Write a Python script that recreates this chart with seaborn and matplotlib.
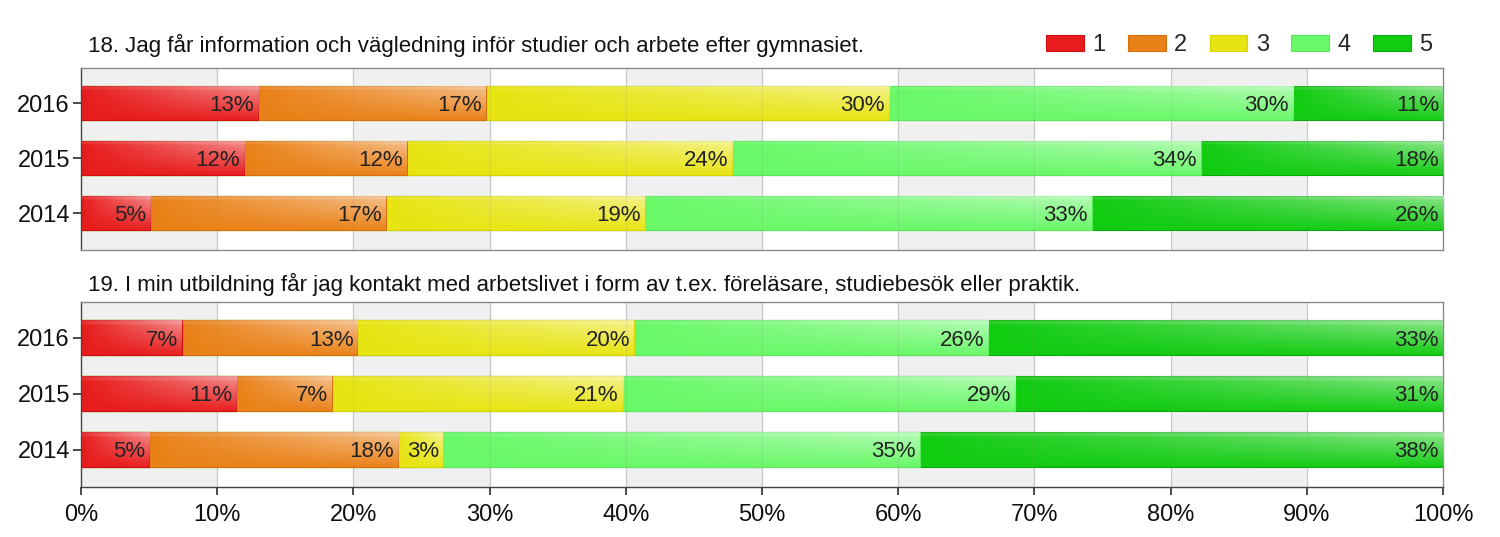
import seaborn as sns
import numpy as np
import matplotlib.pyplot as plt
import pandas as pd
from matplotlib.patches import Rectangle

# data (share of answers per grade, %)
years = ["2016", "2015", "2014"]
grades = ["1", "2", "3", "4", "5"]
q18_title = "18. Jag får information och vägledning inför studier och arbete efter gymnasiet."
q19_title = "19. I min utbildning får jag kontakt med arbetslivet i form av t.ex. föreläsare, studiebesök eller praktik."

q18 = {
    "2016": [13.0, 16.7, 29.6, 29.7, 11.0],
    "2015": [12.0, 11.9, 23.9, 34.4, 17.8],
    "2014": [5.1, 17.3, 19.0, 32.8, 25.8],
}
q19 = {
    "2016": [7.4, 12.9, 20.3, 26.0, 33.4],
    "2015": [11.4, 7.0, 21.4, 28.8, 31.4],
    "2014": [5.0, 18.3, 3.3, 35.0, 38.4],
}

colors = ["#e81c1c", "#ea8118", "#e8e412", "#68f868", "#12cc12"]
edges = ["#d01010", "#d87010", "#d8d400", "#58e858", "#0aa80a"]

sns.set_theme(style="white")
plt.rcParams["font.family"] = ["Liberation Sans", "DejaVu Sans"]

fig = plt.figure(figsize=(15, 5.37), dpi=100)
ax1 = fig.add_axes([81 / 1500, 1 - 250 / 537, 1362 / 1500, 182 / 537])
ax2 = fig.add_axes([81 / 1500, 1 - 487 / 537, 1362 / 1500, 185 / 537])

# gradient used as a glossy overlay on every bar
gx = np.linspace(0, 1, 64)[None, :]
gy = np.linspace(0, 1, 32)[:, None]
alpha = 0.45 * gx * np.clip(1.15 - gy * 1.1, 0, 1) + 0.1 * (gy < 0.12)
gloss = np.zeros((32, 64, 4))
gloss[..., :3] = 1.0
gloss[..., 3] = np.clip(alpha, 0, 0.55)
bar_h = 0.62


def draw_panel(ax, data, title, title_y):
    df = pd.DataFrame(data, index=grades).T.loc[years]
    cum = df.cumsum(axis=1)
    # background bands and grid
    for i in range(10):
        if i % 2 == 0:
            ax.axvspan(i * 10, i * 10 + 10, color="#f0f0f0", zorder=0, lw=0)
    for i in range(1, 10):
        ax.axvline(i * 10, color="#d4d4d4", lw=0.9, zorder=0.5)
        ax.axvline(i * 10, color="#888888", lw=0.9, alpha=0.12, zorder=3.5)
    # stacked bars: draw cumulative sums from the last grade backwards
    for k in range(len(grades) - 1, -1, -1):
        plot_df = pd.DataFrame({"year": years, "val": cum[grades[k]].values})
        sns.barplot(data=plot_df, x="val", y="year", order=years, orient="h",
                    color=colors[k], edgecolor=edges[k], linewidth=0.8,
                    width=bar_h, saturation=1, ax=ax, zorder=2)
    for j, yr in enumerate(years):
        vals = df.loc[yr].values
        ends = cum.loc[yr].values
        for k in range(len(grades)):
            start = ends[k] - vals[k]
            ax.imshow(gloss, extent=(start, ends[k], j + bar_h / 2, j - bar_h / 2),
                      aspect="auto", zorder=3, interpolation="bilinear")
            ax.text(ends[k] - 0.3, j + 0.04, f"{vals[k]:.0f}%", ha="right", va="center",
                    fontsize=16, color="#222222", zorder=4)
    ax.set_xlim(0, 100)
    ax.set_ylim(2.67, -0.64)
    ax.set_xlabel("")
    ax.set_ylabel("")
    ax.tick_params(axis="y", labelsize=17, length=6, color="#333333", labelcolor="#111111",
                   left=True, pad=2)
    ax.tick_params(axis="x", labelsize=17, length=6, color="#333333", labelcolor="#111111",
                   bottom=True, pad=6)
    ax.set_xticks(np.arange(0, 101, 10))
    ax.set_xticklabels([f"{t}%" for t in range(0, 101, 10)])
    for s in ["top", "right"]:
        ax.spines[s].set_color("#8a8a8a")
        ax.spines[s].set_linewidth(1)
    for s in ["left", "bottom"]:
        ax.spines[s].set_color("#444444")
        ax.spines[s].set_linewidth(1)
    fig.text(88 / 1500, 1 - title_y / 537, title, fontsize=16,
             color="#111111", ha="left", va="center")


draw_panel(ax1, q18, q18_title, 45)
draw_panel(ax2, q19, q19_title, 284)
ax1.tick_params(axis="x", labelbottom=False, bottom=False)
ax1.spines["bottom"].set_color("#8a8a8a")

handles = [Rectangle((0, 0), 1, 1, facecolor=c, edgecolor=e, lw=0.8) for c, e in zip(colors, edges)]
fig.legend(handles, grades, loc="center right", bbox_to_anchor=(1432 / 1500, 1 - 45 / 537),
           ncol=5, frameon=False, fontsize=17, handlelength=1.6, handleheight=0.68,
           handletextpad=0.35, columnspacing=0.95, borderpad=0, borderaxespad=0)

fig.savefig("out.png", dpi=100, facecolor="white")
